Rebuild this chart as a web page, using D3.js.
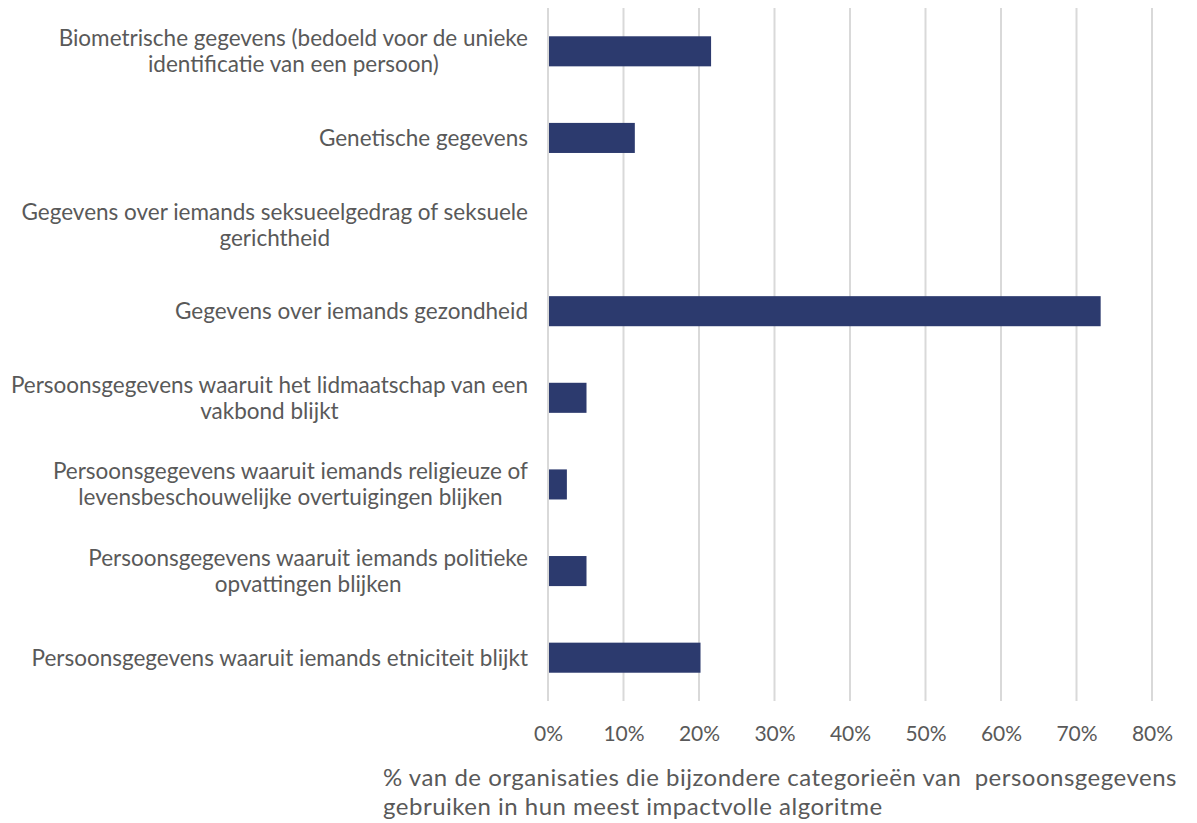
<!DOCTYPE html>
<html>
<head>
<meta charset="utf-8">
<script src="https://cdn.jsdelivr.net/npm/d3@7"></script>
<style>
  html, body { margin: 0; padding: 0; background: #ffffff; }
  svg { display: block; }
  text { font-family: Lato, "Open Sans", sans-serif; fill: #595959; }
</style>
</head>
<body>
<svg id="chart" width="1197" height="823"></svg>
<script>
// Categories (each entry is a list of label lines)
const categories = [
  ["Biometrische gegevens (bedoeld voor de unieke", "identificatie van een persoon)"],
  ["Genetische gegevens"],
  ["Gegevens over iemands seksueelgedrag of seksuele", "gerichtheid"],
  ["Gegevens over iemands gezondheid"],
  ["Persoonsgegevens waaruit het lidmaatschap van een", "vakbond blijkt"],
  ["Persoonsgegevens waaruit iemands religieuze of", "levensbeschouwelijke overtuigingen blijken"],
  ["Persoonsgegevens waaruit iemands politieke", "opvattingen blijken"],
  ["Persoonsgegevens waaruit iemands etniciteit blijkt"]
];
// Share of organisations (%)
const values = [21.6, 11.5, 0, 73.2, 5.1, 2.5, 5.1, 20.2];
const ticks = [0, 10, 20, 30, 40, 50, 60, 70, 80];
const axisTitle = [
  "% van de organisaties die bijzondere categorieën van  persoonsgegevens",
  "gebruiken in hun meest impactvolle algoritme"
];

const svg = d3.select("#chart");
const plot = { left: 548, right: 1152, top: 8, bottom: 701 };

const x = d3.scaleLinear().domain([0, 80]).range([plot.left, plot.right]);
const y = d3.scaleBand()
  .domain(d3.range(categories.length))
  .range([plot.top, plot.bottom])
  .paddingInner(0.653)
  .paddingOuter(0.3265);

// Vertical gridlines
svg.append("g")
  .selectAll("line")
  .data(ticks)
  .join("line")
  .attr("x1", d => x(d)).attr("x2", d => x(d))
  .attr("y1", plot.top).attr("y2", plot.bottom)
  .attr("stroke", "#d9d9d9")
  .attr("stroke-width", 2);

// Bars
svg.append("g")
  .selectAll("rect")
  .data(values)
  .join("rect")
  .attr("x", x(0) + 1)
  .attr("y", (d, i) => y(i))
  .attr("width", d => Math.max(0, x(d) - x(0) - 1))
  .attr("height", y.bandwidth())
  .attr("fill", "#2c3a6e");

// Tick labels
const xAxis = d3.axisBottom(x)
  .tickValues(ticks)
  .tickFormat(d => d + "%")
  .tickSize(0)
  .tickPadding(0);
const gx = svg.append("g")
  .attr("transform", `translate(0, ${plot.bottom + 40})`)
  .call(xAxis);
gx.select(".domain").remove();
gx.selectAll("text")
  .attr("dy", 0)
  .style("font-size", "21px")
  .style("font-family", "Lato, 'Open Sans', sans-serif")
  .attr("fill", "#595959");

// Category labels: lines centred on each other, block right-aligned to the axis
const lineH = 26;
const labelRight = 528;
const lg = svg.append("g");
categories.forEach((lines, i) => {
  const cy = y(i) + y.bandwidth() / 2;
  const t = lg.append("text")
    .attr("text-anchor", "middle")
    .style("font-size", "22.5px");
  lines.forEach((ln, k) => {
    t.append("tspan")
      .attr("x", 0)
      .attr("y", cy + (k - (lines.length - 1) / 2) * lineH + 8)
      .text(ln);
  });
  const w = d3.max(t.selectAll("tspan").nodes(), n => n.getComputedTextLength());
  t.selectAll("tspan").attr("x", labelRight - w / 2);
});

// Axis title
const title = svg.append("text")
  .attr("x", 383)
  .style("font-size", "24px")
  .style("letter-spacing", "0.5px")
  .style("white-space", "pre");
axisTitle.forEach((ln, k) => {
  title.append("tspan")
    .attr("x", 383)
    .attr("y", 786 + k * 29)
    .text(ln);
});
</script>
</body>
</html>
